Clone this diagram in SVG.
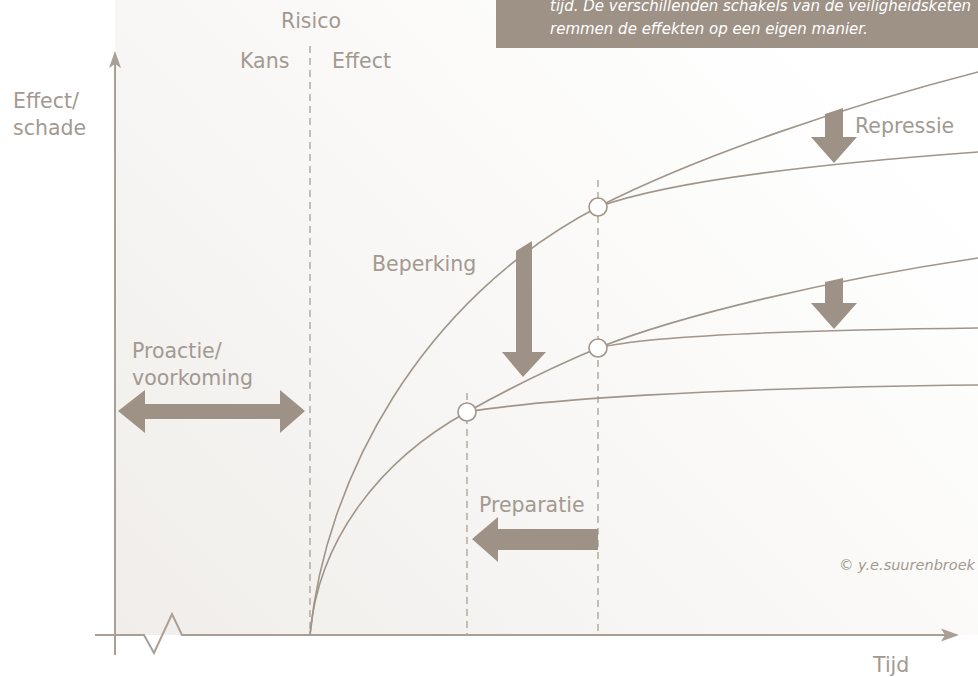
<svg xmlns="http://www.w3.org/2000/svg" width="978" height="677" viewBox="0 0 978 677">
<defs>
<linearGradient id="bg" gradientUnits="userSpaceOnUse" x1="115" y1="635" x2="760" y2="0">
<stop offset="0" stop-color="#f0edea"/>
<stop offset="0.5" stop-color="#f8f7f5"/>
<stop offset="1" stop-color="#ffffff"/>
</linearGradient>
<style>
.t{font-family:"DejaVu Sans","Liberation Sans",sans-serif;font-size:20.5px;fill:#a39990}
.it{font-family:"DejaVu Sans","Liberation Sans",sans-serif;font-style:italic;font-size:15px;fill:#ffffff}
.cp{font-family:"DejaVu Sans","Liberation Sans",sans-serif;font-style:italic;font-size:14.5px;fill:#a39990}
.ax{fill:none;stroke:#a99f96;stroke-width:2}
.cv{fill:none;stroke:#a0958b;stroke-width:1.6}
.dash{fill:none;stroke:#b3aaa1;stroke-width:1.5;stroke-dasharray:7 5}
.ar{fill:#9e9287}
.nd{fill:#ffffff;stroke:#a0958b;stroke-width:1.6}
</style>
</defs>
<rect x="115" y="0" width="863" height="635" fill="url(#bg)"/>
<g id="infobox">
<rect x="496" y="0" width="482" height="48" fill="#9e9287"/>
<text class="it" x="550" y="11">tijd. De verschillenden schakels van de veiligheidsketen</text>
<text class="it" x="550" y="34">remmen de effekten op een eigen manier.</text>
</g>
<g id="axes">
<path class="ax" d="M115,655 V62"/>
<path d="M115,51 L121,68 L115,64 L109,68 Z" fill="#a99f96"/>
<path class="ax" d="M95,635 H144 L154,653 L172,614 L182,635 H946"/>
<path d="M959,635 L941,628.5 L945,635 L941,641.5 Z" fill="#a99f96"/>
</g>
<g id="guides">
<path class="dash" d="M310,46 V635"/>
<path class="dash" d="M467,393 V635"/>
<path class="dash" d="M598,180 V635"/>
</g>
<g id="connectors">
<path class="cv" d="M310,635 C325,480 420,300 598,207"/>
<path class="cv" d="M598,207 C700,155 850,105 978,72"/>
<path class="cv" d="M598,207 C650,188 760,168 978,152"/>
<path class="cv" d="M310,635 C318,540 380,460 467,412"/>
<path class="cv" d="M467,412 C510,388 555,366 598,348"/>
<path class="cv" d="M598,348 C680,315 830,280 978,258"/>
<path class="cv" d="M598,348 C650,335 800,330 978,328"/>
<path class="cv" d="M467,412 C540,400 700,388 978,385"/>
</g>
<g id="arrows">
<polygon id="arrow-proactie" class="ar" points="118,411 145,390 145,404 280,404 280,390 305,411 280,433 280,419 145,419 145,433"/>
<polygon id="arrow-beperking" class="ar" points="516,251 532,241 532,352 546,352 523,377 502,352 516,352"/>
<polygon id="arrow-repressie1" class="ar" points="825,114 843,108 843,137 857,137 834,163 811,137 825,137"/>
<polygon id="arrow-repressie2" class="ar" points="825,282 843,278 843,303 857,303 834,329 811,303 825,303"/>
<polygon id="arrow-preparatie" class="ar" points="472,539 498,517 498,529 598,529 598,550 498,550 498,562"/>
</g>
<g id="nodes">
<circle id="node-top" class="nd" cx="598" cy="207" r="9"/>
<circle id="node-mid" class="nd" cx="598" cy="348" r="9"/>
<circle id="node-low" class="nd" cx="467" cy="412" r="9"/>
</g>
<g id="labels">
<text class="t" x="311" y="28" text-anchor="middle">Risico</text>
<text class="t" x="240" y="68">Kans</text>
<text class="t" x="332" y="68">Effect</text>
<text class="t" x="13" y="108">Effect/</text>
<text class="t" x="13" y="135">schade</text>
<text class="t" x="855" y="133">Repressie</text>
<text class="t" x="372" y="271">Beperking</text>
<text class="t" x="132" y="358">Proactie/</text>
<text class="t" x="132" y="385">voorkoming</text>
<text class="t" x="479" y="512">Preparatie</text>
<text class="cp" x="975" y="570" text-anchor="end">© y.e.suurenbroek</text>
<text class="t" x="873" y="672">Tijd</text>
</g>
</svg>
